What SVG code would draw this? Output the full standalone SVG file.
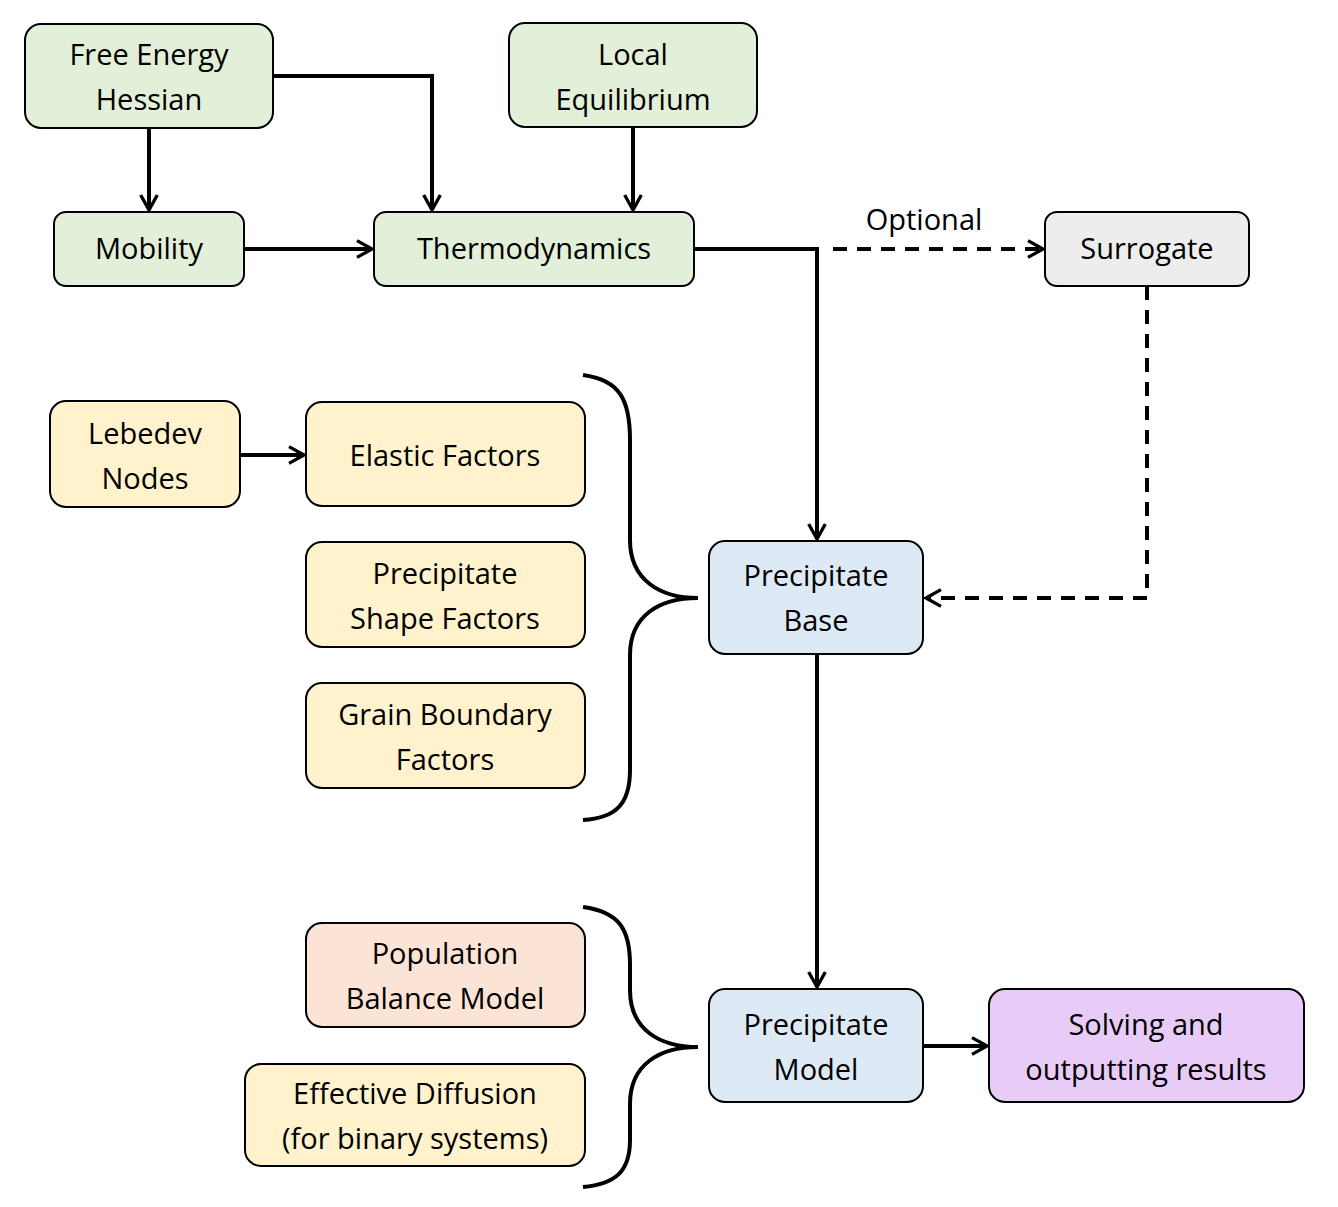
<svg xmlns="http://www.w3.org/2000/svg" width="1338" height="1207" viewBox="0 0 1338 1207">
<style>
.n rect{stroke:#000;stroke-width:2}
.g{fill:#e2efd9}.y{fill:#fff2cc}.b{fill:#dde9f5}.p{fill:#fbe4d6}.v{fill:#e8ccf7}.s{fill:#ededed}
text{font-family:"Open Sans","Liberation Sans",sans-serif;font-size:29px;fill:#000;text-anchor:middle}
.c path{fill:none;stroke:#000;stroke-width:4}
.d{stroke-dasharray:14 10}
</style>
<defs>
<marker id="a" viewBox="0 0 12 12" refX="10" refY="6" markerWidth="5" markerHeight="5" markerUnits="strokeWidth" orient="auto"><path d="M1,1 L10,6 L1,11" fill="none" stroke="#000" stroke-width="2"/></marker>
</defs>
<g class="c">
<path d="M149,128 V210" marker-end="url(#a)"/>
<path d="M273,76 H432 V210" marker-end="url(#a)"/>
<path d="M633,127 V210" marker-end="url(#a)"/>
<path d="M244,249 H372" marker-end="url(#a)"/>
<path d="M694,249 H817 V539" marker-end="url(#a)"/>
<path class="d" d="M833,249 H1043" marker-end="url(#a)"/>
<path class="d" d="M1147,286 V598 H926" marker-end="url(#a)"/>
<path d="M240,455 H304" marker-end="url(#a)"/>
<path d="M817,654 V987" marker-end="url(#a)"/>
<path d="M923,1046 H987" marker-end="url(#a)"/>
<path d="M583,375 C620,380 630,400 630,440 L630,540 C630,580 660,598 698,598 C660,598 630,615 630,655 L630,770 C630,805 615,818 583,820"/>
<path d="M583,907 C620,912 630,930 630,965 L630,990 C630,1030 660,1047 698,1047 C660,1047 630,1064 630,1104 L630,1140 C630,1172 615,1184 583,1187"/>
</g>
<text x="924" y="230">Optional</text>
<g id="feh" class="n"><rect class="g" x="25" y="24" width="248" height="104" rx="16"/><text x="149" y="65">Free Energy</text><text x="149" y="110">Hessian</text></g>
<g id="le" class="n"><rect class="g" x="509" y="23" width="248" height="104" rx="16"/><text x="633" y="65">Local</text><text x="633" y="110">Equilibrium</text></g>
<g id="mob" class="n"><rect class="g" x="54" y="212" width="190" height="74" rx="12"/><text x="149" y="259">Mobility</text></g>
<g id="thermo" class="n"><rect class="g" x="374" y="212" width="320" height="74" rx="12"/><text x="534" y="259">Thermodynamics</text></g>
<g id="sur" class="n"><rect class="s" x="1045" y="212" width="204" height="74" rx="12"/><text x="1147" y="259">Surrogate</text></g>
<g id="leb" class="n"><rect class="y" x="50" y="401" width="190" height="106" rx="16"/><text x="145" y="444">Lebedev</text><text x="145" y="489">Nodes</text></g>
<g id="ef" class="n"><rect class="y" x="306" y="402" width="279" height="104" rx="16"/><text x="445" y="466">Elastic Factors</text></g>
<g id="psf" class="n"><rect class="y" x="306" y="542" width="279" height="105" rx="16"/><text x="445" y="584">Precipitate</text><text x="445" y="629">Shape Factors</text></g>
<g id="gbf" class="n"><rect class="y" x="306" y="683" width="279" height="105" rx="16"/><text x="445" y="725">Grain Boundary</text><text x="445" y="770">Factors</text></g>
<g id="pb" class="n"><rect class="b" x="709" y="541" width="214" height="113" rx="16"/><text x="816" y="586">Precipitate</text><text x="816" y="631">Base</text></g>
<g id="pbm" class="n"><rect class="p" x="306" y="923" width="279" height="104" rx="16"/><text x="445" y="964">Population</text><text x="445" y="1009">Balance Model</text></g>
<g id="ed" class="n"><rect class="y" x="245" y="1064" width="340" height="102" rx="16"/><text x="415" y="1104">Effective Diffusion</text><text x="415" y="1149">(for binary systems)</text></g>
<g id="pm" class="n"><rect class="b" x="709" y="989" width="214" height="113" rx="16"/><text x="816" y="1035">Precipitate</text><text x="816" y="1080">Model</text></g>
<g id="sol" class="n"><rect class="v" x="989" y="989" width="315" height="113" rx="16"/><text x="1146" y="1035">Solving and</text><text x="1146" y="1080">outputting results</text></g>
</svg>
